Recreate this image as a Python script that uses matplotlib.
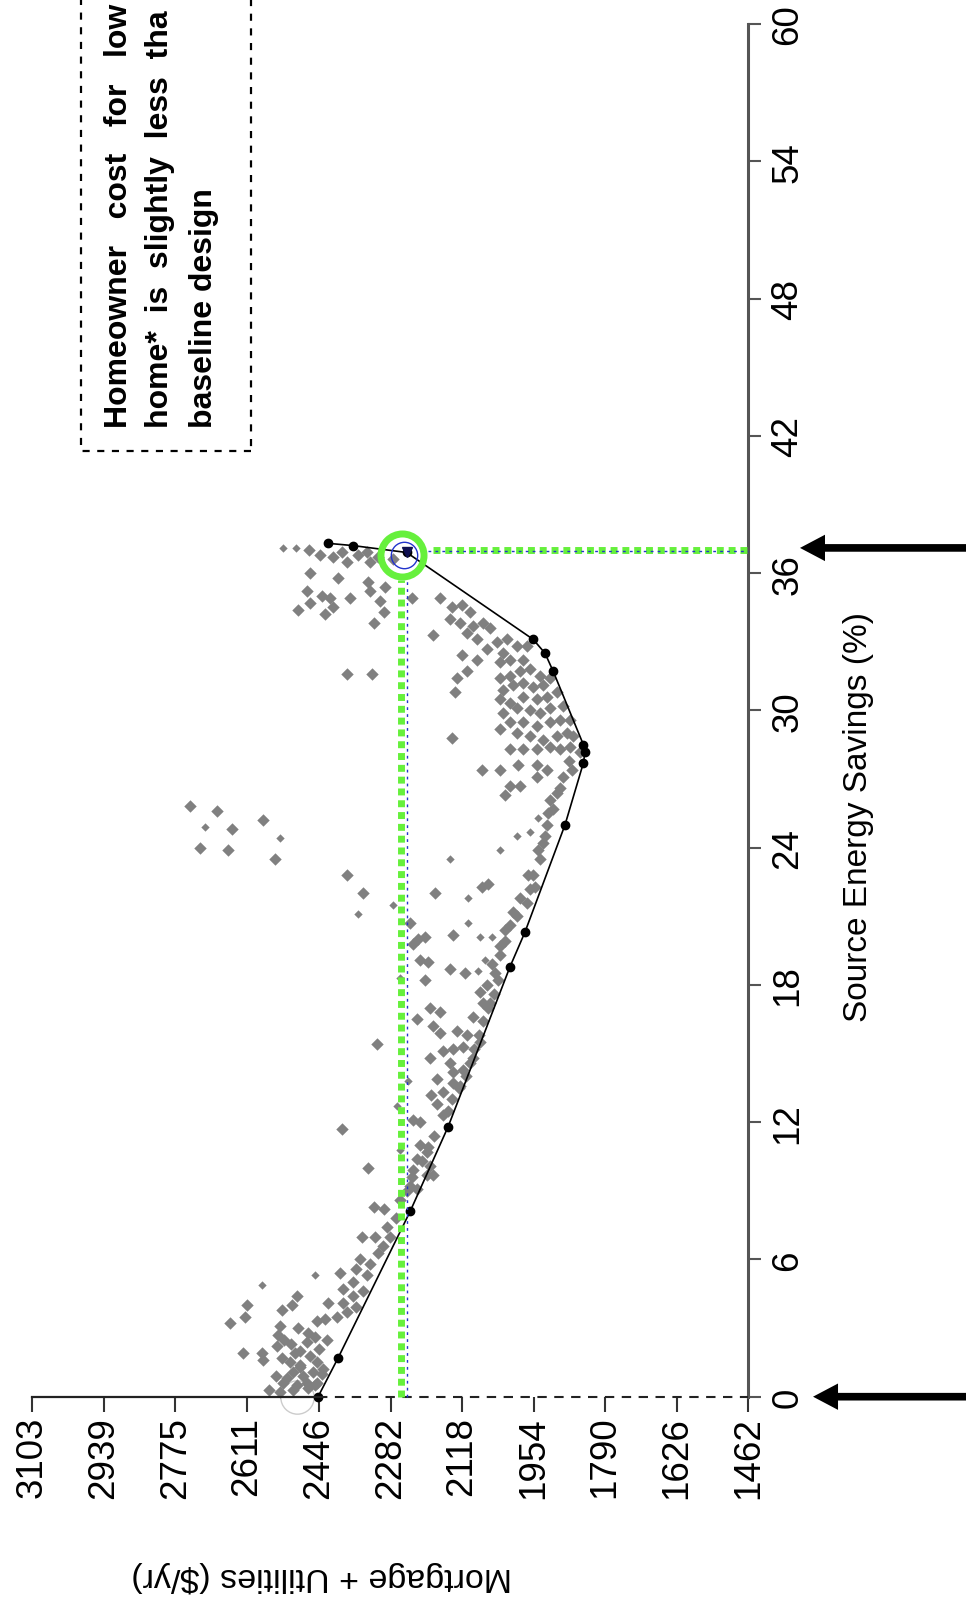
import matplotlib.pyplot as plt
from matplotlib.patches import Rectangle

plt.rcParams['font.family'] = ['Liberation Sans', 'DejaVu Sans']

# axis ticks
cost_ticks = [3103, 2939, 2775, 2611, 2446, 2282, 2118, 1954, 1790, 1626, 1462]
savings_ticks = [0, 6, 12, 18, 24, 30, 36, 42, 48, 54, 60]

# simulated designs: (source energy savings %, mortgage + utilities $/yr)
designs = [
    (37.0, 2468), (36.8, 2444), (36.7, 2413), (36.9, 2394), (36.5, 2382), (36.8, 2356),
    (36.9, 2337), (36.5, 2329), (36.7, 2310), (36.6, 2276), (36.0, 2466), (35.8, 2402),
    (35.6, 2333), (35.4, 2295), (35.2, 2474), (35.0, 2440), (34.9, 2421), (34.9, 2375),
    (35.2, 2329), (34.8, 2306), (34.9, 2233), (34.7, 2466), (34.4, 2493), (34.2, 2432),
    (34.5, 2413), (34.3, 2298), (33.8, 2321), (31.6, 2382), (31.6, 2325),
    (34.9, 2169), (34.5, 2142), (34.6, 2119), (34.3, 2100), (34.0, 2146), (33.8, 2123),
    (33.7, 2092), (33.8, 2069), (33.4, 2107), (33.6, 2054), (33.3, 2184), (33.1, 2084),
    (33.0, 2039), (33.1, 2016), (32.7, 2062), (32.5, 2024), (32.8, 1993), (32.8, 1970),
    (32.4, 2119), (32.2, 2084), (32.1, 2031), (32.2, 2008), (32.2, 1978), (31.7, 2107),
    (31.4, 2130), (30.8, 2134), (28.8, 2142),
    (31.4, 2031), (31.5, 2008), (31.7, 1985), (31.8, 1962), (31.5, 1939), (30.9, 2024),
    (31.1, 2001), (31.2, 1978), (31.0, 1955), (31.1, 1932), (30.5, 2031), (30.3, 2008),
    (30.6, 1978), (30.5, 1947), (30.6, 1924), (29.9, 2024), (30.1, 1993), (30.0, 1962),
    (29.9, 1939), (30.1, 1916), (29.5, 2008), (29.5, 1978), (29.3, 1947), (29.5, 1916),
    (29.6, 1894), (29.2, 2031), (29.0, 1993), (28.9, 1962), (28.7, 1932), (28.9, 1901),
    (29.0, 1878), (28.3, 2008), (28.3, 1978), (28.3, 1947), (28.4, 1916), (28.3, 1894),
    (28.4, 1871), (28.9, 1863), (28.2, 1848), (30.2, 1886), (29.6, 1871), (30.8, 1901),
    (31.4, 1916),
    (25.8, 2742), (25.6, 2680), (24.8, 2646), (25.2, 2574), (24.0, 2719), (23.9, 2654),
    (23.5, 2547), (22.8, 2382), (22.0, 2344), (20.7, 2237), (20.0, 2218), (20.1, 2203),
    (19.8, 2230), (19.1, 2214), (19.0, 2195), (18.2, 2203), (22.0, 2180), (22.3, 2073),
    (22.4, 2058), (20.2, 2138), (18.7, 2146), (18.5, 2111),
    (27.4, 2073), (27.4, 2031), (27.6, 1989), (26.7, 2008), (26.7, 1985), (26.3, 2020),
    (27.6, 1947), (27.4, 1924), (27.1, 1947),
    (27.1, 1886), (26.4, 1901), (25.7, 1909), (25.0, 1924), (24.2, 1932), (23.5, 1939),
    (22.8, 1955), (22.2, 1962), (21.6, 1970), (21.0, 1993), (20.6, 2008), (19.9, 2020),
    (19.3, 2031), (18.5, 2042), (18.0, 2062), (17.7, 2077), (26.1, 1916), (24.5, 1928),
    (22.3, 1951), (21.2, 2001), (19.7, 2031), (27.4, 1867), (27.8, 1874), (26.6, 1894),
    (25.5, 1921), (23.9, 1944), (22.8, 1967), (21.8, 1985), (20.4, 2020), (18.9, 2049),
    (15.4, 2314), (11.7, 2394), (10.0, 2333), (16.5, 2222), (17.0, 2192), (16.8, 2169),
    (16.2, 2184), (15.9, 2169), (16.0, 2130), (15.8, 2107), (16.6, 2092), (17.2, 2069),
    (14.8, 2192), (15.1, 2161), (15.2, 2138), (15.3, 2115), (14.6, 2146), (14.2, 2138),
    (14.3, 2115), (13.9, 2176), (13.7, 2138), (13.3, 2161), (13.6, 2123), (14.8, 2092),
    (15.5, 2077), (12.0, 2214), (12.1, 2230), (12.3, 2161), (11.0, 2214), (10.7, 2199),
    (10.4, 2222), (9.9, 2230), (10.1, 2192), (9.2, 2237), (9.7, 2199), (17.2, 2054),
    (9.0, 2245), (9.6, 2232), (10.3, 2210), (10.9, 2195), (11.4, 2182), (12.5, 2150),
    (13.0, 2140), (13.5, 2125), (14.0, 2110), (14.6, 2100), (15.2, 2090), (15.8, 2080),
    (16.4, 2070), (17.0, 2058), (17.6, 2045), (18.2, 2035), (12.8, 2175), (13.2, 2190),
    (8.3, 2321), (8.2, 2298), (7.0, 2348), (7.0, 2318), (7.0, 2283), (6.3, 2310),
    (6.0, 2352), (5.4, 2398), (5.6, 2360), (4.4, 2497), (4.7, 2390), (5.0, 2367),
    (5.3, 2337), (4.0, 2612), (3.8, 2531), (4.0, 2508), (4.1, 2425), (4.1, 2390),
    (4.4, 2367), (3.2, 2650), (3.5, 2616), (3.1, 2535), (3.4, 2432), (3.5, 2405),
    (3.7, 2382), (2.7, 2539), (2.5, 2428), (2.4, 2474), (1.9, 2619), (1.9, 2577),
    (1.6, 2574), (2.2, 2543), (1.5, 2512), (1.4, 2489), (1.8, 2466), (1.5, 2451),
    (1.1, 2505), (0.9, 2482), (1.1, 2459), (1.2, 2436), (0.6, 2528), (0.5, 2497),
    (0.6, 2474), (0.2, 2535), (0.6, 2451), (9.7, 2184), (9.1, 2222),
    (0.3, 2560), (0.9, 2545), (1.7, 2530), (2.3, 2510), (2.0, 2490), (2.6, 2455),
    (1.0, 2440), (0.4, 2470), (0.3, 2505), (5.8, 2330), (6.6, 2300), (7.4, 2290),
    (7.8, 2270), (8.6, 2260), (4.6, 2345), (3.9, 2360), (0.8, 2520), (1.3, 2490),
    (1.9, 2500), (2.5, 2525), (2.8, 2470), (3.0, 2495), (3.3, 2450), (2.1, 2445),
    (0.5, 2455),
]
designs_small = [
    (37.1, 2528), (37.1, 2499), (24.9, 2707), (24.4, 2535), (21.1, 2356), (21.5, 2276),
    (18.3, 2260), (23.5, 2146), (21.8, 2104), (23.9, 2031), (24.5, 1993), (24.7, 1962),
    (25.3, 1943), (20.7, 2104), (20.1, 2077), (20.1, 2050), (18.6, 2081), (19.1, 2065),
    (12.7, 2268), (10.8, 2260), (13.8, 2241), (5.3, 2455), (4.9, 2577),
]

# least-cost curve
front = [
    (0.0, 2448), (1.7, 2402), (8.1, 2237), (11.8, 2150), (18.8, 2008), (20.3, 1974),
    (25.0, 1882), (27.7, 1840), (28.2, 1836), (28.5, 1840), (31.7, 1909), (32.5, 1928),
    (33.1, 1955), (36.9, 2245), (37.2, 2367), (37.3, 2425),
]
optimum = (36.9, 2245)
baseline = (0.0, 2497)
guide_savings = 37.0
guide_cost = 2258
arrow_savings = [0.0, 37.1]

GREEN = '#66f03c'
W, H = 966, 1606


def fig_xy(x, y):
    return x / W, 1 - y / H


fig = plt.figure(figsize=(W / 100, H / 100), dpi=100)
ax = fig.add_axes([32.3 / W, 1 - 1397.7 / H, 716 / W, 1372.7 / H])
ax.set_xlim(3103, 1462)
ax.set_ylim(0, 60)

for side in ['left', 'top', 'bottom']:
    ax.spines[side].set_visible(False)
ax.spines['right'].set_color('#555555')
ax.spines['right'].set_linewidth(2.2)

# scatter of all designs
ax.scatter([c for s, c in designs], [s for s, c in designs], marker='D', s=40,
           color='#808080', lw=0, zorder=2, clip_on=False)
ax.scatter([c for s, c in designs_small], [s for s, c in designs_small], marker='D',
           s=18, color='#808080', lw=0, zorder=2, clip_on=False)

# least-cost curve
ax.plot([c for s, c in front], [s for s, c in front], color='black', lw=1.2,
        marker='o', ms=6, zorder=3, clip_on=False)

# savings = 0 axis line: solid up to the baseline, dashed beyond
ax.plot([3103, front[0][1]], [0, 0], color='#222222', lw=1.6, zorder=3, clip_on=False)
ax.plot([front[0][1], 1462], [0, 0], color='#222222', lw=1.5,
        linestyle=(0, (4.5, 3.6)), zorder=3, clip_on=False)

# guide lines to the optimum
ax.plot([guide_cost, guide_cost], [0, 35.7], color=GREEN, lw=5,
        linestyle=(0, (1, 0.7)), zorder=4, clip_on=False)
ax.plot([optimum[1], optimum[1]], [0, 35.9], color='#2233cc', lw=1,
        linestyle=(0, (2, 3)), zorder=4, clip_on=False)
ax.plot([2185, 1462], [guide_savings, guide_savings], color=GREEN, lw=5,
        linestyle=(0, (1, 0.7)), zorder=4, clip_on=False)
ax.plot([2195, 1462], [guide_savings - 0.05, guide_savings - 0.05], color='#2233cc',
        lw=1, linestyle=(0, (2, 3)), zorder=4, clip_on=False)

# circles
ax.plot([2256], [36.8], marker='o', ms=31, mfc='none', mec=GREEN, mew=5, zorder=5)
ax.plot([2250], [36.8], marker='o', ms=19, mfc='none', mec='#2233cc', mew=1, zorder=5)
ax.plot([optimum[1]], [optimum[0]], marker='v', ms=7, color='#101050', zorder=5)
ax.plot([baseline[1]], [baseline[0]], marker='o', ms=24, mfc='none', mec='#cccccc',
        mew=1, zorder=1, clip_on=False)

# ticks
ax.set_xticks(cost_ticks)
ax.set_xticklabels([str(v) for v in cost_ticks])
ax.tick_params(axis='x', labelrotation=90, length=10.8, width=1.5, color='#333333',
               pad=3, labelsize=26.5)
ax.yaxis.tick_right()
ax.set_yticks(savings_ticks)
ax.tick_params(axis='y', labelrotation=90, length=9, width=1.5, color='#555555',
               pad=7, labelsize=26.5)
for lbl in ax.get_yticklabels():
    lbl.set_va('center')

# axis titles
fig.text(*fig_xy(859, 817), 'Source Energy Savings (%)', rotation=90,
         ha='center', va='center', fontsize=24)
fig.text(*fig_xy(322, 1577), 'Mortgage + Utilities ($/yr)', rotation=180,
         ha='center', va='center', fontsize=24.5)

# arrows
for s in arrow_savings:
    tip = 1.0904 if s == 0 else 1.0722
    ax.annotate('', xy=(tip, s), xycoords=('axes fraction', 'data'),
                xytext=(1.34, s), textcoords=('axes fraction', 'data'),
                arrowprops=dict(arrowstyle='simple,head_length=1.8,head_width=1.9,tail_width=0.55',
                                mutation_scale=10, color='black', lw=0,
                                shrinkA=0, shrinkB=0),
                annotation_clip=False)

# note box (runs off the top edge as in the source image)
ax.add_patch(Rectangle((2602, 41.35), 390, 21, fill=False, edgecolor='black',
                       lw=1.6, linestyle=(0, (3.2, 3.4)), clip_on=False, zorder=6))
note_lines = ['Homeowner   cost   for   low',
              'home*  is  slightly  less  tha',
              'baseline design']
for x, line in zip([126.7, 168.3, 211.7], note_lines):
    fig.text(*fig_xy(x, 428), line, rotation=90, rotation_mode='anchor',
             ha='left', va='baseline', fontsize=23, fontweight='bold')

fig.savefig('out.png', dpi=100)
